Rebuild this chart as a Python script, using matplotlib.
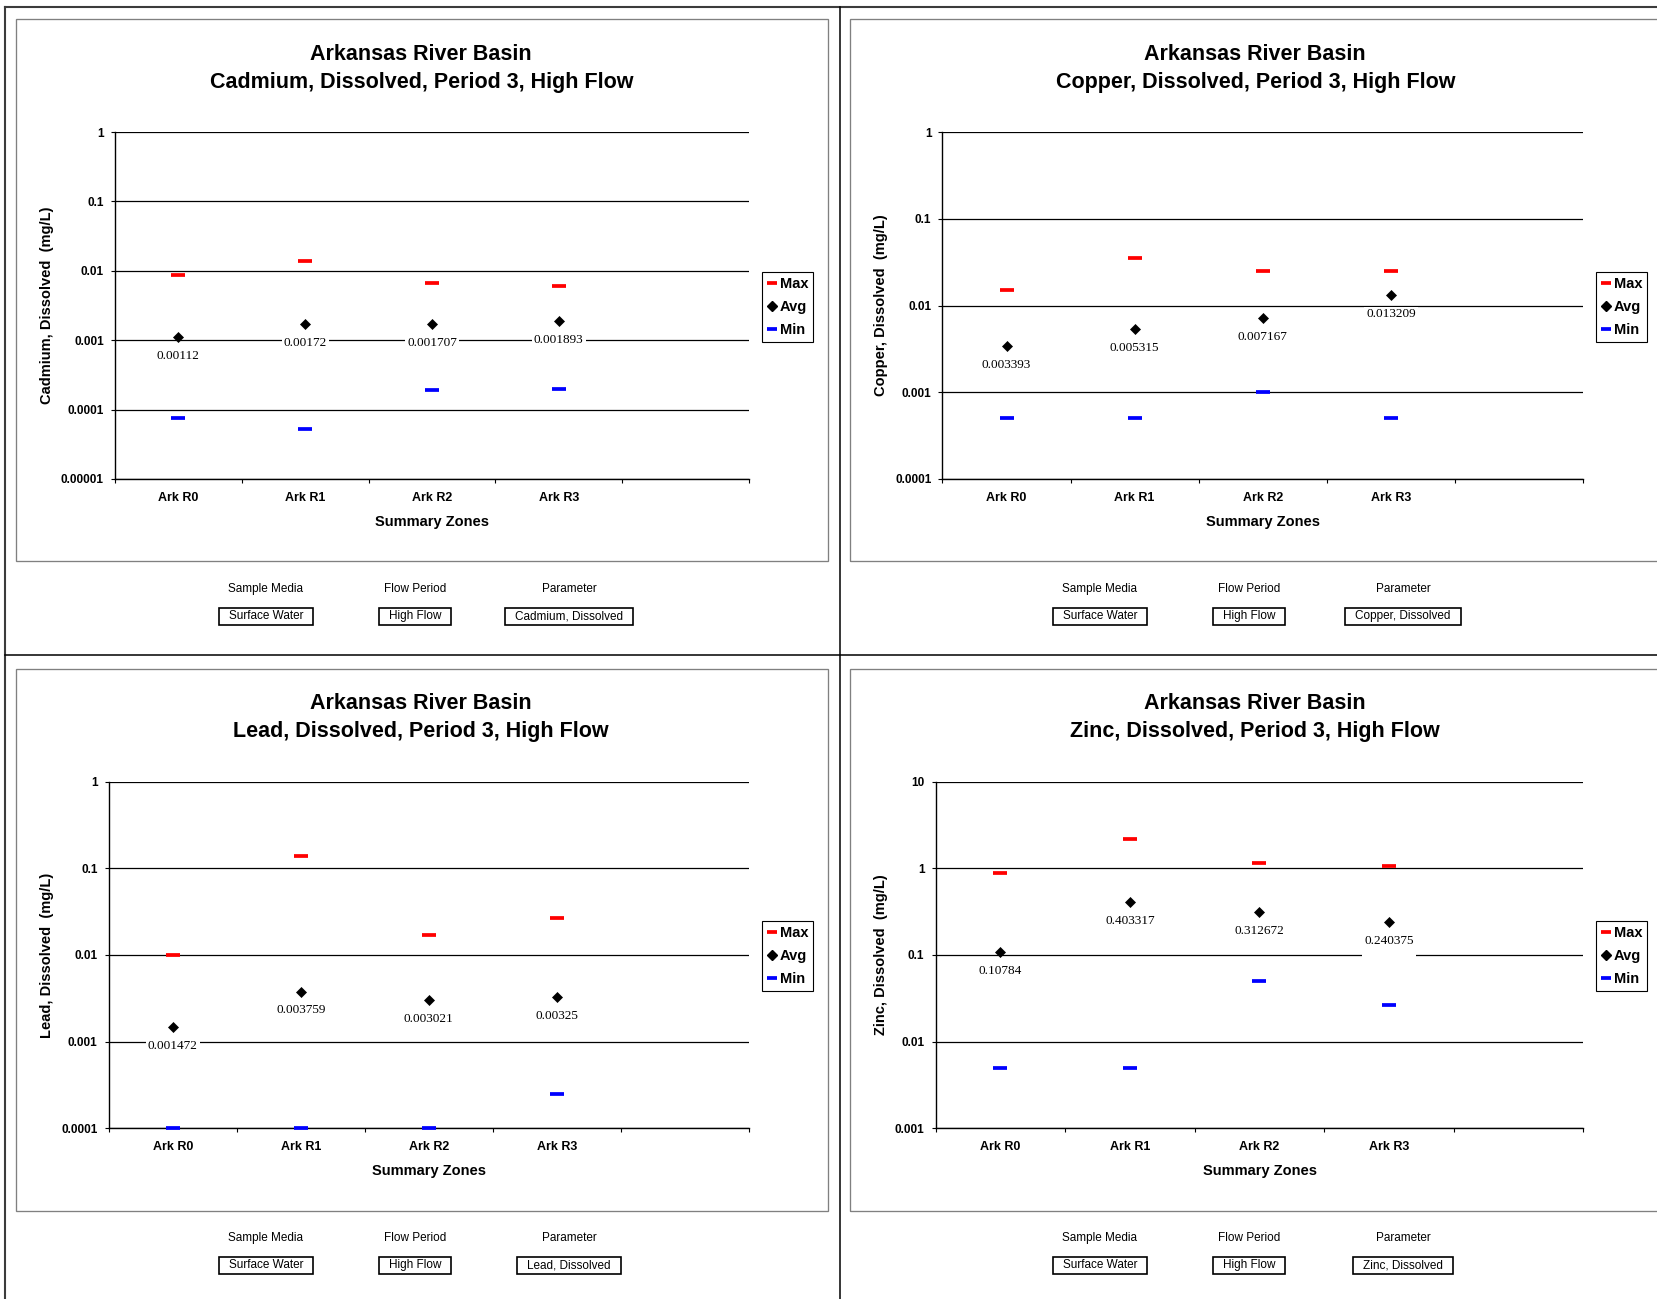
import matplotlib
matplotlib.use('Agg')

import numpy as np
import matplotlib.pyplot as plt
from matplotlib.lines import Line2D
from matplotlib.patches import Rectangle
from matplotlib.path import Path
from matplotlib.ticker import FixedLocator, FuncFormatter, NullFormatter

plt.rcParams['font.family'] = ['Liberation Sans', 'DejaVu Sans']

W, H, DPI = 1658, 1299, 100

zones = ['Ark R0', 'Ark R1', 'Ark R2', 'Ark R3']

cd_max = [0.0088, 0.014, 0.0067, 0.006]
cd_avg = [0.00112, 0.00172, 0.001707, 0.001893]
cd_min = [0.000075, 0.000053, 0.00019, 0.0002]

cu_max = [0.015, 0.0355, 0.025, 0.025]
cu_avg = [0.003393, 0.005315, 0.007167, 0.013209]
cu_min = [0.0005, 0.0005, 0.001, 0.0005]

pb_max = [0.01, 0.14, 0.017, 0.027]
pb_avg = [0.001472, 0.003759, 0.003021, 0.00325]
pb_min = [0.0001, 0.0001, 0.0001, 0.00025]

zn_max = [0.88, 2.2, 1.16, 1.06]
zn_avg = [0.10784, 0.403317, 0.312672, 0.240375]
zn_min = [0.005, 0.005, 0.05, 0.0267]

metals = ['Cadmium', 'Copper', 'Lead', 'Zinc']
y_ranges = [(1e-5, 1), (1e-4, 1), (1e-4, 1), (1e-3, 10)]

field_names = ['Sample Media', 'Flow Period', 'Parameter']
media = 'Surface Water'
flow = 'High Flow'


def fx(x):
    return x / W


def fy(y):
    return 1 - y / H


def pad_box(left, right, below, above):
    # box style with its own padding on every side, in pixels
    def box(x0, y0, width, height, mutation_size):
        verts = [(x0 - left, y0 - below), (x0 + width + right, y0 - below),
                 (x0 + width + right, y0 + height + above),
                 (x0 - left, y0 + height + above), (x0 - left, y0 - below)]
        return Path(verts, closed=True)
    return box


def log_label(v, pos):
    if v >= 1:
        return '%d' % round(v)
    return '%.*f' % (int(round(-np.log10(v))), v)


fig = plt.figure(figsize=(W / DPI, H / DPI), dpi=DPI)


def fig_line(xs, ys, color, lw):
    fig.add_artist(Line2D([fx(x) for x in xs], [fy(y) for y in ys],
                          transform=fig.transFigure, color=color, lw=lw))


# page rules between the four charts
fig_line([5, W], [6.5, 6.5], '#3c3c3c', 1.5)
fig_line([5.5, 5.5], [6.5, H], '#3c3c3c', 1.5)
fig_line([840, 840], [6.5, H], 'black', 1.1)
fig_line([5, W], [655.3, 655.3], 'black', 1.1)

panels = [
    (cd_max, cd_avg, cd_min),
    (cu_max, cu_avg, cu_min),
    (pb_max, pb_avg, pb_min),
    (zn_max, zn_avg, zn_min),
]
origins = [(16.3, 19.3), (850.3, 19.3), (16.3, 668.7), (850.3, 668.7)]
plot_left = [98.7, 92.2, 92.4, 85.3]

x = np.arange(len(zones)) + 0.5

for i, (mx, av, mn) in enumerate(panels):
    ox, oy = origins[i]
    metal = metals[i]
    param = metal + ', Dissolved'

    fig.add_artist(Rectangle((fx(ox), fy(oy + 542)), 811.4 / W, 542 / H,
                             transform=fig.transFigure, fill=False,
                             ec='#808080', lw=0.95))

    x0, x1 = ox + plot_left[i], ox + 732.7
    y0, y1 = oy + 112.8, oy + 459.6
    ax = fig.add_axes([fx(x0), fy(y1), (x1 - x0) / W, (y1 - y0) / H])
    ax.set_yscale('log')
    lo, hi = y_ranges[i]
    ax.set_ylim(lo, hi)
    ax.set_xlim(0, 5)

    decades = 10.0 ** np.arange(np.log10(lo), np.log10(hi) + 0.5)
    ax.yaxis.set_major_locator(FixedLocator(decades))
    ax.yaxis.set_minor_locator(FixedLocator([]))
    ax.yaxis.set_major_formatter(FuncFormatter(log_label))
    ax.yaxis.grid(True, color='black', lw=0.9)
    ax.set_axisbelow(True)

    ax.xaxis.set_major_locator(FixedLocator(range(6)))
    ax.xaxis.set_major_formatter(NullFormatter())
    ax.xaxis.set_minor_locator(FixedLocator(x))
    ax.set_xticklabels(zones, minor=True)

    ax.tick_params(axis='y', which='major', direction='out', length=3,
                   width=0.8, pad=5, labelsize=8.5)
    ax.tick_params(axis='x', which='major', direction='out', length=3,
                   width=0.8)
    ax.tick_params(axis='x', which='minor', length=0, pad=9.2, labelsize=9)
    for lab in ax.get_yticklabels() + ax.get_xticklabels(minor=True):
        lab.set_fontweight('bold')

    for side in ['top', 'right']:
        ax.spines[side].set_visible(False)
    for side in ['left', 'bottom']:
        ax.spines[side].set_color('black')
        ax.spines[side].set_linewidth(1.0)

    ax.plot(x, mx, ls='none', marker='_', ms=10, mew=2.7, color='#ff0000',
            clip_on=False, zorder=5, label='Max')
    ax.plot(x, av, ls='none', marker='D', ms=4.8, mew=0.5, color='black',
            clip_on=False, zorder=6, label='Avg')
    ax.plot(x, mn, ls='none', marker='_', ms=10, mew=2.7, color='#0000ff',
            clip_on=False, zorder=5, label='Min')

    for xi, v in zip(x, av):
        ax.annotate(str(v), (xi, v), xytext=(0, -13.5),
                    textcoords='offset points', ha='center', va='center',
                    fontsize=9.5, family='Liberation Serif', zorder=4,
                    bbox=dict(boxstyle=pad_box(2, 2, 10, 1), fc='white',
                              ec='none'))

    handles = [
        Line2D([], [], ls='none', marker='_', ms=7, mew=2.7, color='#ff0000'),
        Line2D([], [], ls='none', marker='D', ms=4.8, color='black'),
        Line2D([], [], ls='none', marker='_', ms=7, mew=2.7, color='#0000ff'),
    ]
    leg = ax.legend(handles, ['Max', 'Avg', 'Min'], loc='center',
                    bbox_to_anchor=(fx(ox + 771.2), fy(oy + 287.5)),
                    bbox_transform=fig.transFigure, fancybox=False,
                    framealpha=1, edgecolor='black', borderpad=0.35,
                    labelspacing=0.62, handlelength=0.7, handletextpad=0.2,
                    borderaxespad=0, prop={'weight': 'bold', 'size': 10.5})
    leg.get_frame().set_linewidth(0.8)

    fig.text(fx(ox + 405), fy(oy + 49),
             'Arkansas River Basin\n' + param + ', Period 3, High Flow',
             ha='center', va='center', fontsize=15.5, fontweight='bold',
             linespacing=1.45)
    fig.text(fx(ox + 30.7), fy((y0 + y1) / 2), param + '  (mg/L)',
             rotation=90, ha='center', va='center', fontsize=10.5,
             fontweight='bold')
    fig.text(fx((x0 + x1) / 2 + 0.5), fy(oy + 502.7), 'Summary Zones',
             ha='center', va='center', fontsize=10.5, fontweight='bold')

    # page field buttons under each chart
    for name, value, cx in zip(field_names, [media, flow, param],
                               [249.7, 398.7, 552.7]):
        fig.text(fx(ox + cx), fy(oy + 569.7), name, ha='center',
                 va='center', fontsize=8.5)
        fig.text(fx(ox + cx), fy(oy + 596.7), value, ha='center',
                 va='center', fontsize=8.5,
                 bbox=dict(boxstyle=pad_box(10, 10, 2.5, 2.5), fc='white',
                           ec='black', lw=1.2))

fig.savefig('out.png', dpi=DPI)
